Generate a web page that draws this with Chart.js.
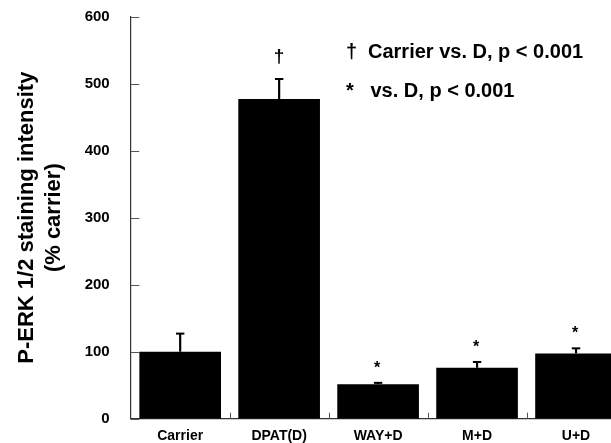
<!DOCTYPE html>
<html>
<head>
<meta charset="utf-8">
<script src="https://cdn.jsdelivr.net/npm/chart.js@4/dist/chart.umd.min.js"></script>
<style>
  html, body { margin: 0; padding: 0; background: #fff; overflow: hidden; width: 611px; height: 443px; }
  #wrap { width: 611px; height: 443px; overflow: hidden; position: relative; }
  canvas { display: block; }
</style>
</head>
<body>
<div id="wrap"><canvas id="c" width="628" height="443"></canvas></div>
<script>
const categories = ["Carrier", "DPAT(D)", "WAY+D", "M+D", "U+D"];
const values = [100, 477, 51.5, 76, 97.5];
const errors = [27, 30, 2, 8.7, 7.5];
const markers = ["", "\u2020", "*", "*", "*"];
const yTicks = [0, 100, 200, 300, 400, 500, 600];
const yTitle = ["P-ERK 1/2 staining intensity", "(% carrier)"];
const noteLines = [["\u2020", "Carrier vs. D, p < 0.001"], ["*", "vs. D, p < 0.001"]];

const FONT = "'Liberation Sans', Arial, Helvetica, sans-serif";

const decorPlugin = {
  id: 'decor',
  beforeDatasetsDraw(chart) {
    const ctx = chart.ctx;
    const ys = chart.scales.y, xs = chart.scales.x;
    const area = chart.chartArea;
    ctx.save();
    ctx.strokeStyle = '#555';
    ctx.lineWidth = 1;
    yTicks.forEach(v => {
      const py = Math.round(ys.getPixelForValue(v)) + 0.5;
      ctx.beginPath();
      ctx.moveTo(area.left, py);
      ctx.lineTo(area.left + 8.6, py);
      ctx.stroke();
    });
    for (let i = 0; i < categories.length - 1; i++) {
      const px = Math.round((xs.getPixelForValue(i) + xs.getPixelForValue(i + 1)) / 2) + 0.5;
      ctx.beginPath();
      ctx.moveTo(px, area.bottom);
      ctx.lineTo(px, area.bottom - 6);
      ctx.stroke();
    }
    ctx.restore();
  },
  afterDatasetsDraw(chart) {
    const ctx = chart.ctx;
    const ys = chart.scales.y;
    const meta = chart.getDatasetMeta(0);
    ctx.save();
    ctx.strokeStyle = '#000';
    ctx.fillStyle = '#000';
    meta.data.forEach((bar, i) => {
      const x = bar.x;
      const yTop = ys.getPixelForValue(values[i]);
      const yErr = ys.getPixelForValue(values[i] + errors[i]);
      ctx.lineWidth = 2.2;
      ctx.beginPath();
      ctx.moveTo(x, yTop);
      ctx.lineTo(x, yErr);
      ctx.stroke();
      ctx.lineWidth = 2;
      ctx.beginPath();
      ctx.moveTo(x - 4.2, yErr);
      ctx.lineTo(x + 4.2, yErr);
      ctx.stroke();
      if (markers[i]) {
        const isStar = markers[i] === "*";
        ctx.font = "bold " + (isStar ? 16 : 19) + "px " + FONT;
        ctx.textAlign = 'center';
        ctx.textBaseline = 'alphabetic';
        const gap = isStar ? 10 : 17;
        ctx.fillText(markers[i], x - (isStar ? 1 : 0), yErr - gap);
      }
    });
    ctx.font = "bold 20px " + FONT;
    ctx.textAlign = 'left';
    ctx.textBaseline = 'alphabetic';
    const baselines = [57.5, 97];
    const textX = [368, 370.5];
    noteLines.forEach((ln, i) => {
      ctx.fillText(ln[0], 346, baselines[i]);
      ctx.fillText(ln[1], textX[i], baselines[i]);
    });
    ctx.restore();
  }
};

new Chart(document.getElementById('c'), {
  type: 'bar',
  data: {
    labels: categories,
    datasets: [{
      data: values,
      backgroundColor: '#000',
      borderWidth: 0,
      barPercentage: 0.825,
      categoryPercentage: 1.0
    }]
  },
  options: {
    responsive: false,
    animation: false,
    devicePixelRatio: 1,
    layout: { padding: { top: 16.7, right: 2.5, left: 0, bottom: 0 } },
    plugins: { legend: { display: false }, tooltip: { enabled: false } },
    scales: {
      x: {
        grid: { display: false, drawTicks: false },
        border: { display: true, color: '#333', width: 1.2 },
        ticks: { color: '#000', padding: 9, font: { family: FONT, size: 14, weight: 'bold' } },
        afterFit(scale) {
          scale.height = 24.3;
          scale.paddingLeft = 0; scale.paddingRight = 0;
          scale.paddingTop = 0; scale.paddingBottom = 0;
        }
      },
      y: {
        min: 0, max: 600,
        afterBuildTicks(scale) { scale.ticks = yTicks.map(v => ({ value: v })); },
        grid: { display: false, drawTicks: false },
        border: { display: true, color: '#333', width: 1.2 },
        ticks: { color: '#000', padding: 21, font: { family: FONT, size: 15, weight: 'bold' } },
        title: {
          display: true,
          text: yTitle,
          color: '#000',
          padding: { top: 14, bottom: 0 },
          font: { family: FONT, size: 22, weight: 'bold', lineHeight: 1.2 }
        },
        afterFit(scale) {
          scale.width = 130.7;
          scale.paddingTop = 0; scale.paddingBottom = 0;
          scale.paddingLeft = 0; scale.paddingRight = 0;
        }
      }
    }
  },
  plugins: [decorPlugin]
});
</script>
</body>
</html>
